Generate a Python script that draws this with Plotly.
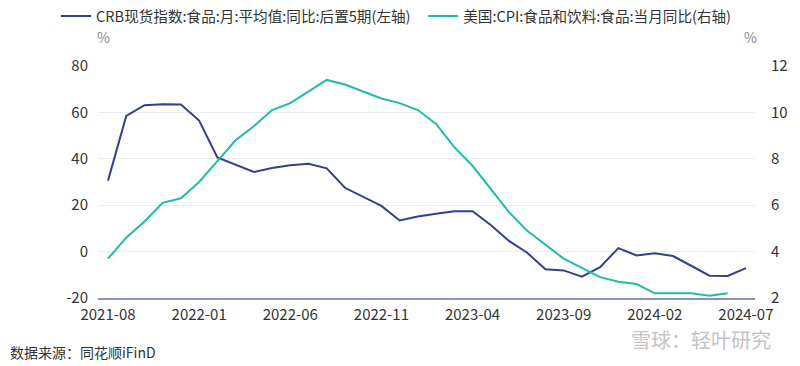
import plotly.graph_objects as go

months = ["2021-08", "2021-09", "2021-10", "2021-11", "2021-12",
          "2022-01", "2022-02", "2022-03", "2022-04", "2022-05", "2022-06", "2022-07",
          "2022-08", "2022-09", "2022-10", "2022-11", "2022-12",
          "2023-01", "2023-02", "2023-03", "2023-04", "2023-05", "2023-06", "2023-07",
          "2023-08", "2023-09", "2023-10", "2023-11", "2023-12",
          "2024-01", "2024-02", "2024-03", "2024-04", "2024-05", "2024-06", "2024-07"]

crb_food = [30.6, 58.5, 63.1, 63.5, 63.4,
            56.5, 40.6, 37.5, 34.3, 36.0, 37.2, 37.9,
            35.9, 27.5, 23.7, 19.7, 13.4,
            15.1, 16.3, 17.4, 17.4, 11.5, 4.6, -0.5,
            -7.6, -8.1, -10.8, -6.7, 1.5,
            -1.7, -0.7, -1.9, -6.1, -10.4, -10.5, -7.1]

us_food_cpi = [3.7, 4.6, 5.3, 6.1, 6.3,
               7.0, 7.9, 8.8, 9.4, 10.1, 10.4, 10.9,
               11.4, 11.2, 10.9, 10.6, 10.4,
               10.1, 9.5, 8.5, 7.7, 6.7, 5.7, 4.9,
               4.3, 3.7, 3.3, 2.9, 2.7,
               2.6, 2.2, 2.2, 2.2, 2.1, 2.2]

tick_labels = ["2021-08", "2022-01", "2022-06", "2022-11", "2023-04", "2023-09", "2024-02", "2024-07"]
left_ticks = [-20, 0, 20, 40, 60, 80]
right_ticks = [2, 4, 6, 8, 10, 12]

name_crb = "CRB现货指数:食品:月:平均值:同比:后置5期(左轴)"
name_cpi = "美国:CPI:食品和饮料:食品:当月同比(右轴)"
source = "数据来源：同花顺iFinD"
watermark = "雪球：轻叶研究"

BLUE = "#343f8e"
TEAL = "#22bbaa"
FONT = "Noto Sans CJK SC"

x_idx = list(range(len(months)))
tick_pos = [months.index(t) for t in tick_labels]

fig = go.Figure()
fig.add_trace(go.Scatter(x=x_idx, y=crb_food, mode="lines", name=name_crb,
                         line=dict(color=BLUE, width=2), yaxis="y", legend="legend"))
fig.add_trace(go.Scatter(x=x_idx[:len(us_food_cpi)], y=us_food_cpi, mode="lines", name=name_cpi,
                         line=dict(color=TEAL, width=2), yaxis="y2", legend="legend2"))

legend_common = dict(orientation="h", xref="container", y=1.0, yref="container",
                     yanchor="top", xanchor="left", font=dict(size=14.6, color="#333333"),
                     bgcolor="rgba(0,0,0,0)", itemwidth=30)

fig.update_layout(
    width=800, height=366,
    margin=dict(l=98, r=43, t=66, b=68),
    paper_bgcolor="white", plot_bgcolor="white",
    font=dict(family=FONT, size=14, color="#333333"),
    showlegend=True,
    legend=dict(x=0.07, **legend_common),
    legend2=dict(x=0.529, **legend_common),
    xaxis=dict(range=[-0.55, 35.5], tickmode="array", tickvals=tick_pos, ticktext=tick_labels,
               showgrid=False, zeroline=False, showline=True, linecolor="#8a92b8", linewidth=2,
               ticks="", tickfont=dict(size=15, color="#333333"), ticklabelstandoff=2),
    yaxis=dict(range=[-20, 80], tickmode="array", tickvals=left_ticks,
               ticktext=[str(v) for v in left_ticks], showgrid=True, gridcolor="#ebebf3",
               gridwidth=1, zeroline=False, ticks="", tickfont=dict(size=15, color="#333333"),
               ticklabelstandoff=9),
    yaxis2=dict(range=[2, 12], tickmode="array", tickvals=right_ticks,
                ticktext=[str(v) for v in right_ticks], overlaying="y", side="right",
                showgrid=False, zeroline=False, ticks="", tickfont=dict(size=15, color="#333333"),
                ticklabelstandoff=15),
    annotations=[
        dict(text=source, xref="paper", yref="paper", x=-0.1366, y=-0.233,
             xanchor="left", yanchor="middle", showarrow=False,
             font=dict(size=14, color="#333333")),
        dict(text=watermark, xref="paper", yref="paper", x=1.0273, y=-0.18,
             xanchor="right", yanchor="middle", showarrow=False,
             font=dict(size=20, color="#c4c4c4")),
        dict(text="%", xref="paper", yref="paper", x=0.009, y=1.125,
             xanchor="center", yanchor="middle", showarrow=False,
             font=dict(size=14, color="#888888")),
        dict(text="%", xref="paper", yref="paper", x=0.9924, y=1.125,
             xanchor="center", yanchor="middle", showarrow=False,
             font=dict(size=14, color="#888888")),
    ],
)

fig.write_html("out.html", config={"displayModeBar": False},
               post_script="document.body.style.margin='0';")
